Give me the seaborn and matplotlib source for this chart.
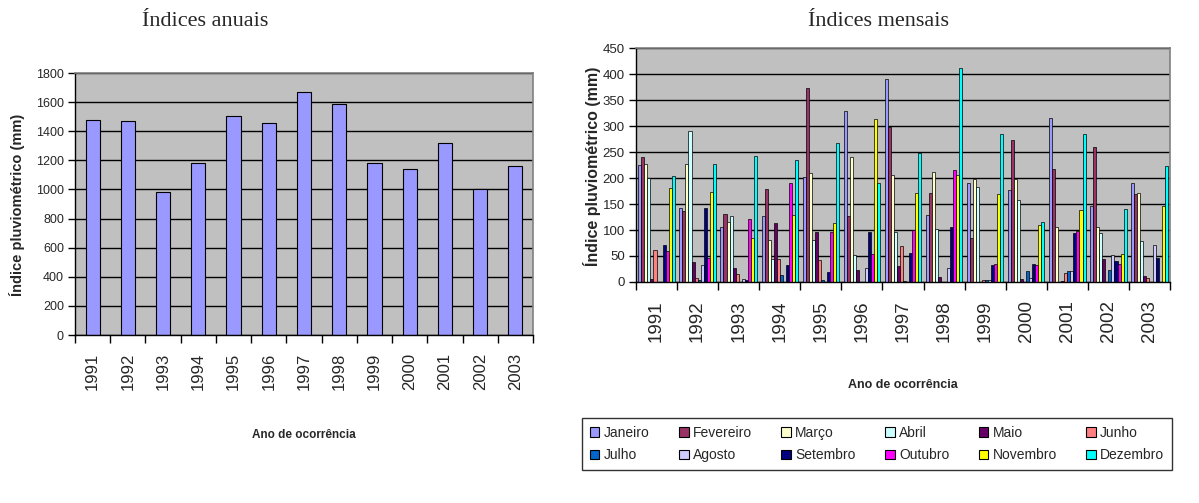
import numpy as np
import pandas as pd
import matplotlib
matplotlib.use("Agg")
import matplotlib.pyplot as plt
from matplotlib.patches import Patch
from matplotlib.ticker import MultipleLocator, FixedLocator
import seaborn as sns

# ---- data ---------------------------------------------------------------
years = ["1991", "1992", "1993", "1994", "1995", "1996", "1997",
         "1998", "1999", "2000", "2001", "2002", "2003"]

annual_total = [1480, 1470, 985, 1185, 1505, 1458, 1668, 1590, 1185, 1138, 1318, 1000, 1160]

months = ["Janeiro", "Fevereiro", "Março", "Abril", "Maio", "Junho",
          "Julho", "Agosto", "Setembro", "Outubro", "Novembro", "Dezembro"]
month_colors = ["#9999FF", "#993366", "#FFFFCC", "#CCFFFF", "#660066", "#FF8080",
                "#0066CC", "#CCCCFF", "#000080", "#FF00FF", "#FFFF00", "#00FFFF"]

janeiro   = [225, 142, 106, 126, 202, 328, 390, 128, 191, 177, 315, 147, 191]
fevereiro = [240, 137, 131, 178, 374, 127, 298, 172, 85, 274, 217, 259, 169]
marco     = [227, 227, 115, 81, 210, 240, 206, 212, 198, 198, 106, 106, 172]
abril     = [200, 290, 127, 44, 80, 52, 96, 102, 183, 157, 0, 94, 78]
maio      = [5, 38, 27, 114, 96, 23, 30, 10, 0, 6, 2, 44, 12]
junho     = [61, 8, 16, 44, 42, 0, 69, 0, 3, 0, 18, 0, 8]
julho     = [0, 3, 0, 13, 3, 0, 1, 0, 3, 21, 21, 24, 0]
agosto    = [0, 32, 6, 0, 0, 27, 0, 27, 3, 8, 22, 52, 71]
setembro  = [72, 142, 4, 32, 19, 96, 55, 105, 32, 35, 94, 41, 46]
outubro   = [60, 47, 121, 191, 96, 54, 100, 215, 35, 33, 98, 35, 0]
novembro  = [180, 174, 85, 128, 113, 313, 172, 206, 170, 110, 139, 54, 147]
dezembro  = [204, 227, 243, 235, 267, 191, 248, 412, 285, 115, 285, 140, 223]

month_values = [janeiro, fevereiro, marco, abril, maio, junho,
                julho, agosto, setembro, outubro, novembro, dezembro]

annual_df = pd.DataFrame({"Ano": years, "Total": annual_total})
monthly_df = pd.DataFrame(
    [(y, m, v) for m, vals in zip(months, month_values) for y, v in zip(years, vals)],
    columns=["Ano", "Mês", "Valor"],
)

# ---- figure -------------------------------------------------------------
sns.set_style("ticks")
plt.rcParams["font.family"] = ["Liberation Sans", "DejaVu Sans"]

W, H = 1199, 503
fig = plt.figure(figsize=(W / 100, H / 100), dpi=100)


def box(left, top, right, bottom):
    return [left / W, 1 - bottom / H, (right - left) / W, (bottom - top) / H]


PLOT_BG = "#C0C0C0"


def style_axes(ax, ymax, ystep, xsize, ysize, xpad):
    n = len(years)
    ax.set_facecolor(PLOT_BG)
    ax.set_xlim(-0.5, n - 0.5)
    ax.set_ylim(0, ymax)
    ax.yaxis.set_major_locator(MultipleLocator(ystep))
    ax.yaxis.grid(True, color="black", linewidth=1.0)
    ax.xaxis.grid(False)
    ax.set_axisbelow(True)
    for side in ("top", "right"):
        ax.spines[side].set_visible(True)
        ax.spines[side].set_color("#808080")
        ax.spines[side].set_linewidth(1.2)
    for side in ("left", "bottom"):
        ax.spines[side].set_color("black")
        ax.spines[side].set_linewidth(1.0)
    ax.set_xlabel("")
    ax.set_ylabel("")
    ax.xaxis.set_minor_locator(FixedLocator(np.arange(-0.5, n, 1.0)))
    ax.tick_params(axis="x", which="major", length=0, pad=xpad,
                   labelsize=xsize, labelrotation=90)
    ax.tick_params(axis="x", which="minor", length=6, width=1, color="black",
                   direction="out")
    ax.tick_params(axis="y", length=5, width=1, color="black",
                   direction="out", labelsize=ysize, pad=3)


# Annual totals
ax1 = fig.add_axes(box(75, 73, 533, 335))
sns.barplot(data=annual_df, x="Ano", y="Total", order=years, color="#9999FF",
            saturation=1, width=0.4, edgecolor="black", linewidth=0.8, ax=ax1)
style_axes(ax1, 1800, 200, 12, 9, 13)

# Monthly values
ax2 = fig.add_axes(box(636, 48, 1170, 282))
sns.barplot(data=monthly_df, x="Ano", y="Valor", hue="Mês", order=years,
            hue_order=months, palette=month_colors, saturation=1,
            width=12 / 13.5, edgecolor="black", linewidth=0.5, legend=False, ax=ax2)
style_axes(ax2, 450, 50, 13.5, 9.5, 13)

# Titles and axis titles
fig.text(205 / W, 1 - 22 / H, "Índices anuais", ha="center", va="center",
         family="Liberation Serif", fontsize=16)
fig.text(878 / W, 1 - 22 / H, "Índices mensais", ha="center", va="center",
         family="Liberation Serif", fontsize=16)

fig.text(17 / W, 1 - 205 / H, "Índice pluviométrico (mm)", rotation=90,
         ha="center", va="center", fontweight="bold", fontsize=10.5)
fig.text(592 / W, 1 - 166 / H, "Índice pluviométrico (mm)", rotation=90,
         ha="center", va="center", fontweight="bold", fontsize=11.5)

fig.text(304 / W, 1 - 435 / H, "Ano de ocorrência", ha="center", va="center",
         fontweight="bold", fontsize=8.5)
fig.text(903 / W, 1 - 385 / H, "Ano de ocorrência", ha="center", va="center",
         fontweight="bold", fontsize=9)

# Legend: two rows of six months
handles = [Patch(facecolor=c, edgecolor="black", linewidth=0.8) for c in month_colors]
order = [0, 6, 1, 7, 2, 8, 3, 9, 4, 10, 5, 11]
leg = fig.legend([handles[i] for i in order], [months[i] for i in order],
                 ncol=6, loc="lower left", mode="expand",
                 bbox_to_anchor=(582 / W, 1 - 470 / H, 590 / W, 52 / H),
                 frameon=True, fancybox=False, edgecolor="black",
                 fontsize=10, handlelength=0.7, handleheight=0.7,
                 handletextpad=0.3, columnspacing=0.5, borderpad=0.55,
                 labelspacing=0.6, borderaxespad=0)
leg.get_frame().set_linewidth(1.0)

fig.savefig("out.png", dpi=100)
